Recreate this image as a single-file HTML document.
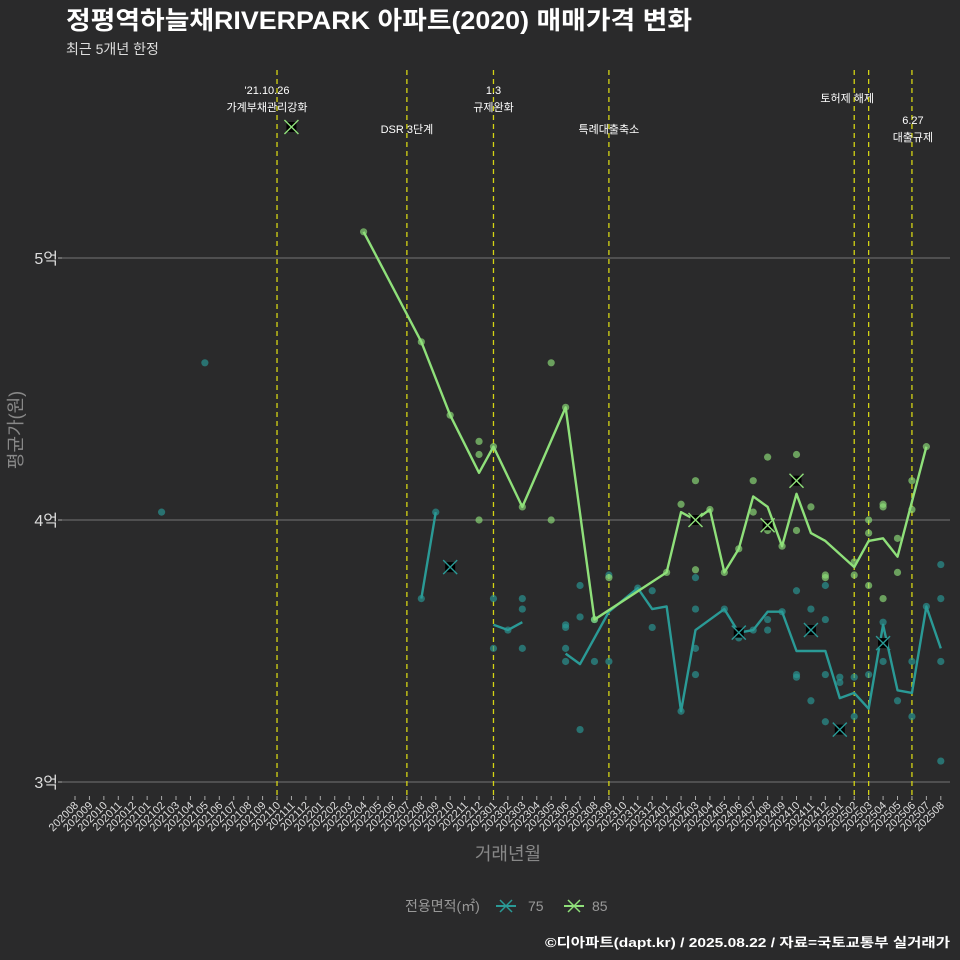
<!DOCTYPE html>
<html><head><meta charset="utf-8"><style>
body{margin:0;background:#2a2a2b;}
svg{display:block;font-family:"Liberation Sans","Noto Sans CJK KR",sans-serif;}
</style></head><body>
<svg id="chart" width="960" height="960" viewBox="0 0 960 960">
<rect width="960" height="960" fill="#2a2a2b"/>
<text x="66" y="29" fill="#fff" font-size="25" font-weight="bold" textLength="626" lengthAdjust="spacingAndGlyphs">정평역하늘채RIVERPARK 아파트(2020) 매매가격 변화</text>
<text x="66" y="54" fill="#ddd" font-size="14">최근 5개년 한정</text>
<g id="grid"></g><g id="events"></g><g id="series"></g><g id="xaxis"></g>
<text x="508" y="860" fill="#888" font-size="18" text-anchor="middle">거래년월</text>
<text transform="translate(22,430) rotate(-90)" fill="#888" font-size="18" text-anchor="middle">평균가(원)</text>
<g>
<text x="405" y="911" fill="#999" font-size="14">전용면적(㎡)</text>
<g><line x1="496" y1="906" x2="516" y2="906" stroke="#2a9a96" stroke-width="2"/><path d="M500 900l12 12M512 900l-12 12" stroke="#2a9a96" stroke-width="1.5"/><text x="528" y="911" fill="#999" font-size="14">75</text></g>
<g><line x1="564" y1="906" x2="584" y2="906" stroke="#8fe07a" stroke-width="2"/><path d="M568 900l12 12M580 900l-12 12" stroke="#8fe07a" stroke-width="1.5"/><text x="592" y="911" fill="#999" font-size="14">85</text></g>
</g>
<text x="950" y="947" fill="#fff" font-size="13" font-weight="bold" text-anchor="end" textLength="405" lengthAdjust="spacingAndGlyphs">©디아파트(dapt.kr) / 2025.08.22 / 자료=국토교통부 실거래가</text>
</svg>
<script>
const months=[];for(let y=2020,m=8;!(y===2025&&m===9);){months.push(''+y+String(m).padStart(2,'0'));m++;if(m>12){m=1;y++;}}
const yTicks=[3,4,5];
const yTickLabels=['3억','4억','5억'];
const line75=[[24,3.70],[25,4.03],null,[29,3.60],[30,3.58],[31,3.61],null,[34,3.49],[35,3.45],[37,3.65],[39,3.74],[40,3.66],[41,3.67],[42,3.27],[43,3.58],[45,3.66],[46,3.57],[47,3.58],[48,3.65],[49,3.65],[50,3.50],[51,3.50],[52,3.50],[53,3.32],[54,3.34],[55,3.28],[56,3.60],[57,3.35],[58,3.34],[59,3.67],[60,3.51]];
const line85=[[20,5.10],[24,4.68],[26,4.40],[28,4.18],[29,4.28],[31,4.05],[34,4.43],[36,3.62],[41,3.80],[42,4.03],[43,4.00],[44,4.04],[45,3.80],[46,3.89],[47,4.09],[48,4.05],[49,3.90],[50,4.10],[51,3.95],[52,3.92],[54,3.82],[55,3.92],[56,3.93],[57,3.86],[58,4.07],[59,4.28]];
const pts75=[[6,4.03],[9,4.60],[24,3.70],[25,4.03],[29,3.70],[29,3.51],[30,3.58],[31,3.70],[31,3.66],[31,3.51],[34,3.60],[34,3.59],[34,3.51],[34,3.46],[35,3.75],[35,3.63],[35,3.20],[36,3.46],[36,3.62],[37,3.79],[37,3.46],[39,3.74],[40,3.59],[40,3.73],[42,3.27],[43,3.78],[43,3.66],[43,3.51],[43,3.41],[45,3.66],[46,3.55],[47,3.58],[48,3.62],[48,3.58],[49,3.65],[50,3.73],[50,3.41],[50,3.40],[51,3.66],[51,3.31],[52,3.75],[52,3.62],[52,3.41],[52,3.23],[53,3.40],[53,3.38],[54,3.40],[54,3.25],[55,3.41],[56,3.61],[56,3.46],[57,3.31],[58,3.46],[58,3.25],[59,3.67],[60,3.83],[60,3.70],[60,3.46],[60,3.08]];
const pts85=[[20,5.10],[24,4.68],[26,4.40],[28,4.30],[28,4.25],[28,4.00],[29,4.28],[31,4.05],[33,4.60],[33,4.00],[34,4.43],[36,3.62],[37,3.78],[41,3.80],[42,4.06],[43,4.15],[43,3.81],[44,4.04],[45,3.80],[46,3.89],[47,4.15],[47,4.03],[48,4.24],[48,3.96],[49,3.90],[50,4.25],[50,3.96],[51,4.05],[52,3.79],[52,3.78],[54,3.84],[54,3.79],[55,4.00],[55,3.95],[55,3.75],[56,4.06],[56,4.05],[56,3.70],[57,3.93],[57,3.80],[58,4.15],[58,4.04],[59,4.28]];
const max75=[[26,3.82],[46,3.57],[51,3.58],[53,3.20],[56,3.53]];
const max85=[[15,5.50],[43,4.00],[48,3.98],[50,4.15]];
const eventIdx=[14,23,29,37,54,55,58];
const eventLabels=[["'21.10.26","가계부채관리강화"],["DSR 3단계"],["1.3","규제완화"],["특례대출축소"],["토허제 해제"],[],["6.27","대출규제"]];
const eventLabelY=[[94,111],[133],[94,111],[133],[102],[],[124,141]];
const eventLabelDx=[-10,0,0,0,-7,0,1];
const X=i=>75+14.43*i, Y=v=>520-(v-4)*262;
const NS='http://www.w3.org/2000/svg';
function mk(p,t,a){const e=document.createElementNS(NS,t);for(const k in a)e.setAttribute(k,a[k]);p.appendChild(e);return e;}
const grid=document.getElementById('grid');
yTicks.forEach((v,k)=>{
 const l=mk(grid,'line',{x1:62,x2:950,y1:Y(v),y2:Y(v),stroke:'#666','stroke-width':1.2});
 
 
 const t=mk(grid,'text',{x:58,y:Y(v)+6,fill:'#ddd','font-size':16,'text-anchor':'end'});t.textContent=yTickLabels[k];
 
 
 mk(grid,'line',{x1:58,x2:62,y1:Y(v),y2:Y(v),stroke:'#aaa'});
});
const ev=document.getElementById('events');
eventIdx.forEach((i,k)=>{
 const l=mk(ev,'line',{x1:X(i),x2:X(i),y1:70,y2:800,stroke:'#d4d414','stroke-width':1.3,'stroke-dasharray':'5,4'});
 
 
 eventLabels[k].forEach((s,j)=>{const t=mk(ev,'text',{x:X(i)+eventLabelDx[k],y:eventLabelY[k][j],fill:'#fff','font-size':11,'text-anchor':'middle'});t.textContent=s;
 
 });
});
const sg=document.getElementById('series');
function dots(arr,c,name){arr.forEach(p=>{const e=mk(sg,'circle',{cx:X(p[0]),cy:Y(p[1]),r:3.6,fill:c,'fill-opacity':0.65});
 
 });}
function line(arr,c,name){let seg=[];const segs=[];arr.forEach(p=>{if(p)seg.push(p);else{segs.push(seg);seg=[];}});segs.push(seg);
 segs.forEach(s=>{const e=mk(sg,'polyline',{points:s.map(p=>X(p[0])+','+Y(p[1])).join(' '),fill:'none',stroke:c,'stroke-width':2.4,'stroke-linejoin':'round'});
 
 });}
function marks(arr,c,name){arr.forEach(p=>{const x=X(p[0]),y=Y(p[1]);const g=mk(sg,'g',{});
 
 
 mk(g,'rect',{x:x-5,y:y-5,width:10,height:10,fill:'#000'});mk(g,'path',{d:`M${x-7} ${y-7}L${x+7} ${y+7}M${x+7} ${y-7}L${x-7} ${y+7}`,stroke:c,'stroke-width':1.4});});}
dots(pts75,'#2a9a96','point-75');dots(pts85,'#8fe07a','point-85');
line(line75,'#2a9a96','line-75');line(line85,'#8fe07a','line-85');
marks(max75,'#2a9a96','max-marker-75');marks(max85,'#8fe07a','max-marker-85');
const xa=document.getElementById('xaxis');
months.forEach((m,i)=>{mk(xa,'line',{x1:X(i),x2:X(i),y1:796,y2:800,stroke:'#aaa'});
 const t=mk(xa,'text',{transform:`translate(${X(i)+4},${806}) rotate(-45)`,fill:'#ddd','font-size':11,'text-anchor':'end'});t.textContent=m;
 
 });
</script>
</body></html>
